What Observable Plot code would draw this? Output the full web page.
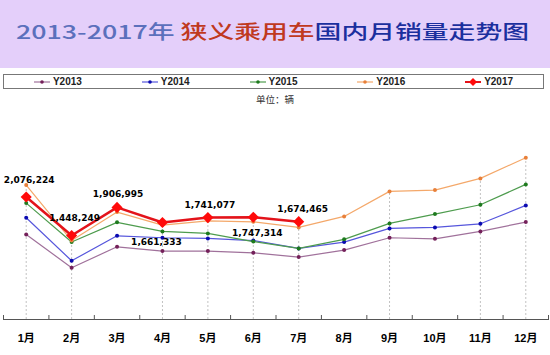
<!DOCTYPE html>
<html><head><meta charset="utf-8">
<script src="https://cdn.jsdelivr.net/npm/d3@7"></script>
<script src="https://cdn.jsdelivr.net/npm/@observablehq/plot@0.6"></script>
<style>
html,body{margin:0;padding:0;background:#fff;}
body{width:550px;height:355px;overflow:hidden;font-family:"Liberation Sans","Noto Sans CJK SC",sans-serif;}
#title{position:relative;height:68px;background:#E4CFFA;}
#title .t{position:absolute;left:16px;top:18px;line-height:26px;white-space:nowrap;font-family:"Noto Sans CJK SC",sans-serif;font-size:19px;font-weight:500;transform-origin:0 50%;}
#legend{box-sizing:border-box;margin:6px 0 0 3px;width:541px;height:15px;border:1px solid #777;display:flex;justify-content:space-around;align-items:center;}
#legend .it{display:flex;align-items:center;font-size:10px;font-weight:bold;color:#222;}
#legend svg{margin-right:3px;}
#unit{height:19px;line-height:21px;text-align:center;font-size:9.5px;color:#333;font-family:"Noto Sans CJK SC",sans-serif;}
#chart svg{display:block;}
</style></head>
<body>
<div id="title"><span class="t"><span style="color:#5B70BC">2013-2017年 </span><span style="color:#C0391E">狭义乘用车</span><span style="color:#1B2F9E">国内月销量走势图</span></span></div>
<div id="legend"></div>
<div id="unit">单位：辆</div>
<div id="chart"></div>
<script>
const months = [1,2,3,4,5,6,7,8,9,10,11,12];
const monthLabels = ["1月","2月","3月","4月","5月","6月","7月","8月","9月","10月","11月","12月"];
const seriesNames = ["Y2013","Y2014","Y2015","Y2016","Y2017"];
const y2013 = [1467000, 923000, 1265000, 1195000, 1195000, 1167000, 1097000, 1211000, 1412000, 1395000, 1516000, 1668000];
const y2014 = [1738000, 1037000, 1444000, 1412000, 1402000, 1366000, 1239000, 1342000, 1565000, 1581000, 1640000, 1940000];
const y2015 = [1977000, 1342000, 1663000, 1516000, 1483000, 1350000, 1239000, 1386000, 1646000, 1798000, 1950000, 2282000];
const y2016 = [2271000, 1366000, 1831000, 1619000, 1689000, 1672000, 1581000, 1760000, 2168000, 2189000, 2380000, 2716000];
const y2017 = [2076224, 1448249, 1906995, 1661333, 1741077, 1747314, 1674465];
const gridMonths = [1,2,4,5,6,7,9,11,12];

const lineColors = ["#A0719B","#5656DC","#4E9C4E","#F4A86A","#E3131A"];
const dotColors  = ["#74205A","#0A0AB0","#1E7A1E","#E8803A","#FF0A0A"];

const allSeries = [y2013,y2014,y2015,y2016,y2017];
const rows = allSeries.flatMap((vals,si)=>vals.map((v,i)=>({s:seriesNames[si], m:months[i], v})));
const yMin = 80000, yMax = 3193000;
const gridRows = gridMonths.map(m=>({m, base:yMin, top:d3.max(rows.filter(r=>r.m===m), r=>r.v)}));

// legend
const leg = d3.select("#legend");
seriesNames.forEach((s,i)=>{
  const it = leg.append("div").attr("class","it");
  const sv = it.append("svg").attr("width",16).attr("height",10);
  sv.append("line").attr("x1",0).attr("x2",16).attr("y1",5).attr("y2",5).attr("stroke",lineColors[i]).attr("stroke-width", i===4?2:1.2);
  if(i===4) sv.append("path").attr("d","M8,1L12,5L8,9L4,5Z").attr("fill",dotColors[i]);
  else sv.append("circle").attr("cx",8).attr("cy",5).attr("r",1.8).attr("fill",dotColors[i]);
  it.append("span").text(s);
});

const marks = [
  Plot.ruleX(gridRows, {x:"m", y1:"base", y2:"top", stroke:"#c2c2c2", strokeDasharray:"2,2"})
];
for (let i=0;i<4;i++){
  const d = rows.filter(r=>r.s===seriesNames[i]);
  marks.push(Plot.line(d, {x:"m", y:"v", stroke:lineColors[i], strokeWidth:1.2}));
  marks.push(Plot.dot(d, {x:"m", y:"v", r:2, fill:dotColors[i]}));
}
const r17 = rows.filter(r=>r.s==="Y2017");
marks.push(Plot.line(r17, {x:"m", y:"v", stroke:lineColors[4], strokeWidth:2.5}));
marks.push(Plot.dot(r17, {x:"m", y:"v", symbol:"diamond2", r:5, fill:dotColors[4], stroke:null}));
const labelOffsets = [[3,-17],[3,-17],[1,-13],[-6,20],[2,-12],[4,16],[4,-13]];
r17.forEach((d,i)=>{
  marks.push(Plot.text([d], {x:"m", y:"v", text:r=>d3.format(",")(r.v), dx:labelOffsets[i][0], dy:labelOffsets[i][1], fontFamily:"DejaVu Sans", fontWeight:"bold", fontSize:9, fill:"#000"}));
});
marks.push(Plot.axisX({ticks:d3.range(0.5,13,1), tickSize:-4, tickFormat:()=>"", stroke:"#555", label:null}));
marks.push(Plot.axisX({ticks:months, tickSize:0, tickPadding:15, tickFormat:d=>monthLabels[d-1], fontWeight:"bold", fontSize:11, fill:"#000", fontFamily:"Liberation Sans, Noto Sans CJK SC", label:null}));
marks.push(Plot.frame({anchor:"bottom", stroke:"#555"}));

const chart = Plot.plot({
  width:550, height:247,
  marginLeft:3, marginRight:2, marginTop:20, marginBottom:36,
  x:{type:"linear", domain:[0.5,12.5], axis:null, label:null},
  y:{domain:[yMin,yMax], axis:null, label:null},
  style:{background:"#fff", overflow:"visible"},
  marks
});
document.getElementById("chart").appendChild(chart);

// stretch title to its width in the reference
const t = document.querySelector("#title .t");
const w = t.getBoundingClientRect().width;
t.style.transform = `scaleX(${513/w})`;
</script>
</body></html>
